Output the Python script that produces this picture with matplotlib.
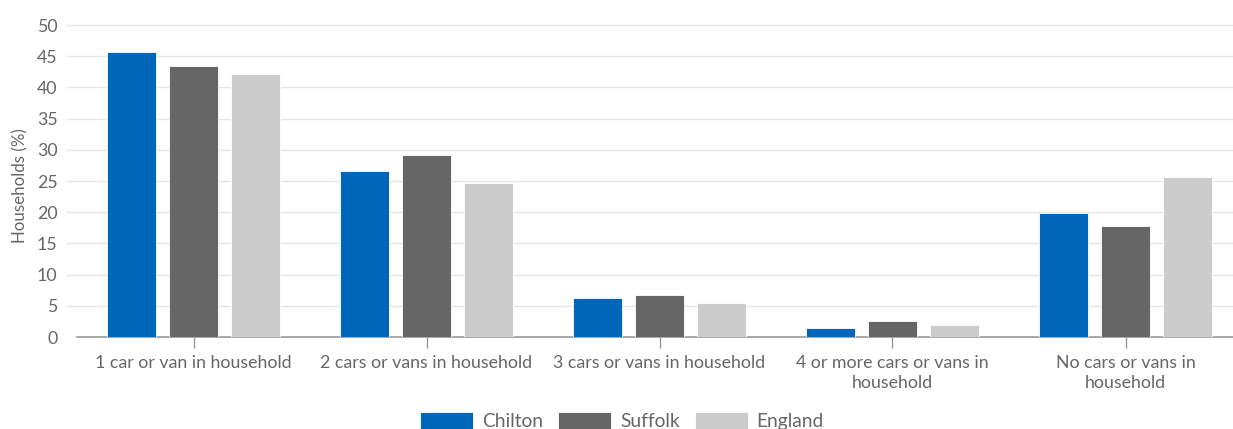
import numpy as np
import matplotlib
matplotlib.use('Agg')
import matplotlib.pyplot as plt

plt.rcParams['font.family'] = ['Lato', 'DejaVu Sans']

categories = ['1 car or van in household', '2 cars or vans in household',
              '3 cars or vans in household', '4 or more cars or vans in\nhousehold',
              'No cars or vans in\nhousehold']
series_names = ['Chilton', 'Suffolk', 'England']
chilton = [45.7, 26.6, 6.2, 1.4, 19.9]
suffolk = [43.4, 29.1, 6.7, 2.5, 17.8]
england = [42.1, 24.7, 5.4, 1.9, 25.7]
yticks = [0, 5, 10, 15, 20, 25, 30, 35, 40, 45, 50]

COLORS = ['#0066b9', '#666666', '#cccccc']
TEXT = '#666666'

W, H = 1233, 429
plot_w = 1165   # plot area runs slightly past the right edge of the image
fig = plt.figure(figsize=(W / 100, H / 100), dpi=100)
ax = fig.add_axes([77 / W, 1 - 337 / H, plot_w / W, (337 - 25) / H])

x = np.arange(len(categories))
width = 0.211
pitch = 0.267
for i, (vals, name) in enumerate(zip([chilton, suffolk, england], series_names)):
    ax.bar(x + (i - 1) * pitch, vals, width, color=COLORS[i], label=name,
           edgecolor='white', linewidth=0.6, zorder=3)

ax.set_xlim(-0.5, len(categories) - 0.5)
ax.set_ylim(0, 50)
ax.set_yticks(yticks)
ax.set_xticks(x)
ax.set_xticklabels(categories, fontsize=12.8, color=TEXT, linespacing=1.3)
ax.tick_params(axis='y', length=0, pad=14, labelsize=12.8, labelcolor=TEXT)
ax.tick_params(axis='x', length=8, width=1, color='#999999', pad=5)

# grid lines run a little left of the axis line, as in the source
for yv in yticks[1:]:
    ax.axhline(yv, xmin=-10 / plot_w, xmax=1, color='#e6e6e6', lw=1, zorder=0, clip_on=False)

for s in ['top', 'right', 'left']:
    ax.spines[s].set_visible(False)
ax.spines['bottom'].set_color('#999999')
ax.spines['bottom'].set_linewidth(1.2)

fig.text(20 / W, 1 - 186 / H, 'Households (%)', rotation=90, va='center', ha='center',
         fontsize=12.2, color=TEXT)

fig.legend(loc='center', bbox_to_anchor=(622 / W, 1 - 421 / H), ncol=3, frameon=False,
           fontsize=13.8, labelcolor=TEXT, handlelength=2.75, handleheight=1.0,
           handletextpad=0.47, columnspacing=0.8)

fig.savefig('out.png', dpi=100)
